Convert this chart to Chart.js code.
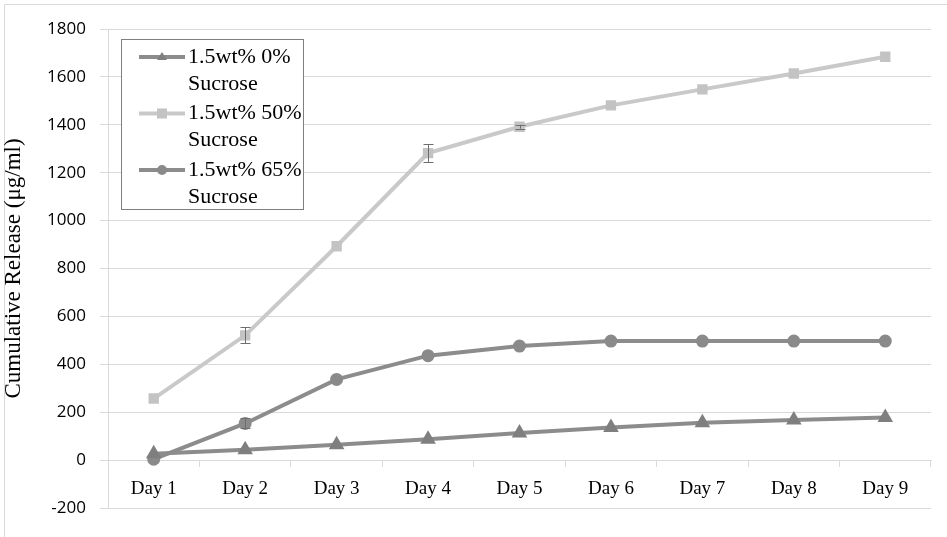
<!DOCTYPE html>
<html>
<head>
<meta charset="utf-8">
<script src="https://cdn.jsdelivr.net/npm/chart.js@4.4.1/dist/chart.umd.min.js"></script>
<style>
  html, body { margin: 0; padding: 0; background: #fff; }
  #wrap { width: 947px; height: 537px; position: relative; }
</style>
</head>
<body>
<div id="wrap"><canvas id="myChart" width="947" height="537"></canvas></div>
<script>
// data
var days = ['Day 1', 'Day 2', 'Day 3', 'Day 4', 'Day 5', 'Day 6', 'Day 7', 'Day 8', 'Day 9'];
var sucrose0 = [27, 43, 64, 87, 113, 136, 156, 167, 178];
var sucrose50 = [257, 521, 893, 1282, 1392, 1481, 1548, 1614, 1684];
var sucrose65 = [4, 153, 337, 436, 476, 497, 497, 497, 497];
var err0 = [0, 0, 0, 0, 0, 0, 0, 0, 0];
var err50 = [0, 34, 0, 37, 8, 0, 0, 0, 0];
var err65 = [0, 21, 0, 0, 0, 0, 0, 0, 0];
var yTicks = [-200, 0, 200, 400, 600, 800, 1000, 1200, 1400, 1600, 1800];
var legendLabels = [['1.5wt% 0%', 'Sucrose'], ['1.5wt% 50%', 'Sucrose'], ['1.5wt% 65%', 'Sucrose']];

var darkGrey = '#8c8c8c';
var lightGrey = '#c9c9c9';
var serif = '"Liberation Serif", "Times New Roman", serif';
var sans = '"Open Sans", "Liberation Sans", sans-serif';

// chart frame (light line top and left like the original)
var framePlugin = {
    id: 'frame',
    beforeDraw(chart) {
        var c = chart.ctx;
        c.save();
        c.strokeStyle = '#d9d9d9';
        c.lineWidth = 1;
        c.beginPath();
        c.moveTo(4.5, 537);
        c.lineTo(4.5, 4.5);
        c.lineTo(947, 4.5);
        c.stroke();
        c.restore();
    }
};

// error bars drawn through the scales
var errorPlugin = {
    id: 'errbars',
    afterDatasetsDraw(chart) {
        var c = chart.ctx;
        var xs = chart.scales.x, ys = chart.scales.y;
        var errs = [err0, err50, err65];
        c.save();
        c.strokeStyle = '#6e6e6e';
        c.lineWidth = 1;
        chart.data.datasets.forEach(function (ds, i) {
            ds.data.forEach(function (v, j) {
                var e = errs[i][j];
                if (!e) return;
                var x = Math.round(xs.getPixelForValue(j)) + 0.5;
                var y1 = ys.getPixelForValue(v + e), y2 = ys.getPixelForValue(v - e);
                c.beginPath();
                c.moveTo(x, y1); c.lineTo(x, y2);
                c.moveTo(x - 5, Math.round(y1) + 0.5); c.lineTo(x + 5, Math.round(y1) + 0.5);
                c.moveTo(x - 5, Math.round(y2) + 0.5); c.lineTo(x + 5, Math.round(y2) + 0.5);
                c.stroke();
            });
        });
        c.restore();
    }
};

// legend box with wrapped labels
var legendPlugin = {
    id: 'boxLegend',
    afterDraw(chart) {
        var c = chart.ctx;
        var bx = 121.5, by = 39.5, bw = 182, bh = 170;
        c.save();
        c.fillStyle = '#fff';
        c.fillRect(bx, by, bw, bh);
        c.strokeStyle = '#7f7f7f';
        c.lineWidth = 1;
        c.strokeRect(bx, by, bw, bh);
        c.font = '22px ' + serif;
        c.textBaseline = 'middle';
        chart.data.datasets.forEach(function (ds, i) {
            var ly = 57 + i * 56.5;
            c.strokeStyle = ds.borderColor;
            c.lineWidth = 4;
            c.beginPath();
            c.moveTo(139, ly); c.lineTo(185, ly);
            c.stroke();
            c.fillStyle = ds.pointBackgroundColor;
            c.beginPath();
            if (ds.pointStyle === 'triangle') {
                c.moveTo(162, ly - 5); c.lineTo(167, ly + 3); c.lineTo(157, ly + 3);
            } else if (ds.pointStyle === 'rect') {
                c.rect(157, ly - 5, 10, 10);
            } else {
                c.arc(162, ly, 5, 0, Math.PI * 2);
            }
            c.fill();
            c.fillStyle = '#000';
            c.fillText(legendLabels[i][0], 188, ly);
            c.fillText(legendLabels[i][1], 188, ly + 27);
        });
        c.restore();
    }
};

var ctx = document.getElementById('myChart').getContext('2d');
var myChart = new Chart(ctx, {
    type: 'line',
    data: {
        labels: days,
        datasets: [
            {
                label: '1.5wt% 0% Sucrose',
                data: sucrose0,
                borderColor: darkGrey,
                backgroundColor: darkGrey,
                pointBackgroundColor: '#7f7f7f',
                pointBorderColor: '#7f7f7f',
                pointStyle: 'triangle',
                pointRadius: 5,
                borderWidth: 4
            },
            {
                label: '1.5wt% 50% Sucrose',
                data: sucrose50,
                borderColor: lightGrey,
                backgroundColor: lightGrey,
                pointBackgroundColor: '#c3c3c3',
                pointBorderColor: '#c3c3c3',
                pointStyle: 'rect',
                pointRadius: 4.5,
                borderWidth: 4
            },
            {
                label: '1.5wt% 65% Sucrose',
                data: sucrose65,
                borderColor: darkGrey,
                backgroundColor: darkGrey,
                pointBackgroundColor: '#8a8a8a',
                pointBorderColor: '#8a8a8a',
                pointStyle: 'circle',
                pointRadius: 4.5,
                borderWidth: 4
            }
        ]
    },
    options: {
        responsive: false,
        animation: false,
        layout: { padding: { top: 29, bottom: 29, right: 16, left: 0 } },
        plugins: {
            legend: { display: false },
            tooltip: { enabled: false }
        },
        scales: {
            x: {
                position: { y: 0 },
                offset: true,
                grid: {
                    display: true,
                    drawOnChartArea: false,
                    offset: true,
                    tickLength: 6,
                    color: '#d9d9d9'
                },
                border: { color: '#d9d9d9' },
                ticks: {
                    color: '#000',
                    font: { family: serif, size: 19 },
                    padding: 12
                }
            },
            y: {
                min: -200,
                max: 1800,
                afterBuildTicks(scale) {
                    scale.ticks = yTicks.map(function (v) { return { value: v }; });
                },
                afterFit(scale) { scale.width = 108; },
                grid: {
                    color: '#d9d9d9',
                    tickLength: 8
                },
                border: { color: '#d9d9d9' },
                ticks: {
                    color: '#000',
                    font: { family: sans, size: 17 },
                    padding: 14,
                    callback: function (v) { return String(v); }
                },
                title: {
                    display: true,
                    text: 'Cumulative Release (μg/ml)',
                    color: '#000',
                    font: { family: serif, size: 23 },
                    padding: { top: 0, bottom: 0 }
                }
            }
        }
    },
    plugins: [framePlugin, errorPlugin, legendPlugin]
});
</script>
</body>
</html>
